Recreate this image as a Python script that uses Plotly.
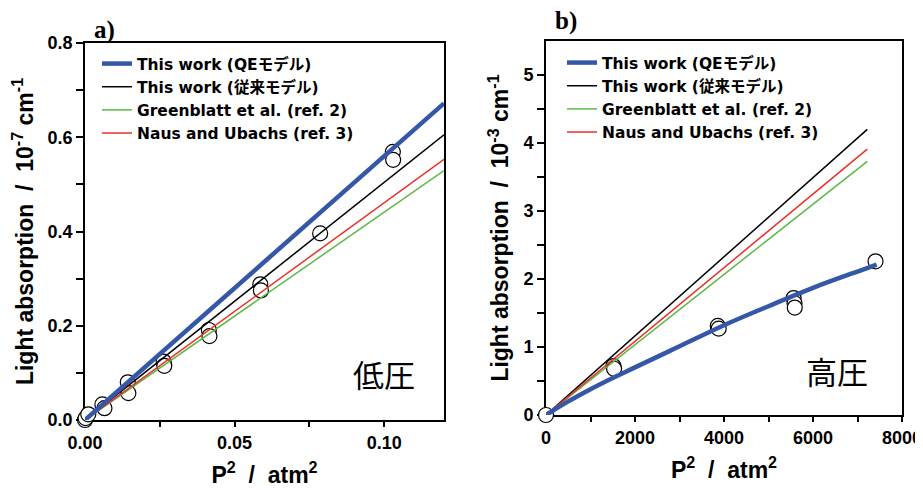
import plotly.graph_objects as go

W, H = 923, 490
OX, OY = 8, 8   # page offset of the figure inside the browser window

# ---------------- data ----------------
# panel a (low pressure)
a_pts_x = [0.0, 0.0002, 0.0011, 0.0058, 0.0065, 0.0143, 0.0145, 0.0263, 0.0265,
           0.0414, 0.0416, 0.0586, 0.0588, 0.0786, 0.1029, 0.1030]
a_pts_y = [0.0, 0.004, 0.012, 0.033, 0.025, 0.080, 0.057, 0.124, 0.115,
           0.191, 0.178, 0.288, 0.275, 0.396, 0.569, 0.552]
a_line_x = [0.0, 0.12]
a_qe = [0.0, 0.672]
a_conv = [0.0, 0.605]
a_green = [0.0, 0.529]
a_red = [0.0, 0.553]

# panel b (high pressure)
b_pts_x = [0, 1515, 1530, 3860, 3880, 5565, 5585, 5590, 7405]
b_pts_y = [0.0, 0.72, 0.68, 1.31, 1.27, 1.72, 1.645, 1.58, 2.26]
b_qe_x = [0, 500, 1000, 1500, 2000, 3000, 4000, 5000, 6000, 7000, 7430]
b_qe_y = [0.0, 0.20, 0.38, 0.545, 0.70, 1.01, 1.32, 1.60, 1.87, 2.11, 2.21]
b_line_x = [0, 7220]
b_conv = [0.0, 4.20]
b_green = [0.0, 3.73]
b_red = [0.0, 3.91]

names = ["This work (QEモデル)", "This work (従来モデル)",
         "Greenblatt et al. (ref. 2)", "Naus and Ubachs (ref. 3)"]

a_xtickvals = [0, 0.025, 0.05, 0.075, 0.10]
a_xticktext = ["0.00", "", "0.05", "", "0.10"]
a_ytickvals = [0, 0.1, 0.2, 0.3, 0.4, 0.5, 0.6, 0.7, 0.8]
a_yticktext = ["0.0", "", "0.2", "", "0.4", "", "0.6", "", "0.8"]
b_xtickvals = [0, 1000, 2000, 3000, 4000, 5000, 6000, 7000, 8000]
b_xticktext = ["0", "", "2000", "", "4000", "", "6000", "", "8000"]
b_ytickvals = [0, 0.5, 1, 1.5, 2, 2.5, 3, 3.5, 4, 4.5, 5]
b_yticktext = ["0", "", "1", "", "2", "", "3", "", "4", "", "5"]

BLUE = "#3557a8"
GREEN = "#5cb846"
RED = "#e8302a"
BLACK = "#000000"

FONT = "Liberation Sans, Arial, Noto Sans CJK JP, sans-serif"
LEGFONT = "DejaVu Sans, Noto Sans CJK JP, sans-serif"

def fx(px):
    return (px - OX) / W

def fy(py):
    return 1 - (py - OY) / H

fig = go.Figure()

def add_panel(xa, ya, legend, px, py, qx, qy, lx, conv, green, red):
    fig.add_trace(go.Scatter(x=px, y=py, mode="markers", xaxis=xa, yaxis=ya,
                             marker=dict(symbol="circle", size=15, color="white",
                                         line=dict(color="black", width=1.2)),
                             cliponaxis=False, showlegend=False, hoverinfo="skip"))
    fig.add_trace(go.Scatter(x=lx, y=conv, mode="lines", xaxis=xa, yaxis=ya,
                             line=dict(color=BLACK, width=1.5), name=names[1], legend=legend,
                             legendrank=2))
    fig.add_trace(go.Scatter(x=lx, y=green, mode="lines", xaxis=xa, yaxis=ya,
                             line=dict(color=GREEN, width=1.5), name=names[2], legend=legend,
                             legendrank=3))
    fig.add_trace(go.Scatter(x=lx, y=red, mode="lines", xaxis=xa, yaxis=ya,
                             line=dict(color=RED, width=1.5), name=names[3], legend=legend,
                             legendrank=4))
    fig.add_trace(go.Scatter(x=qx, y=qy, mode="lines", xaxis=xa, yaxis=ya,
                             line=dict(color=BLUE, width=4.5, shape="spline"),
                             name=names[0], legend=legend, legendrank=1))

add_panel("x", "y", "legend", a_pts_x, a_pts_y, a_line_x, a_qe, a_line_x,
          a_conv, a_green, a_red)
add_panel("x2", "y2", "legend2", b_pts_x, b_pts_y, b_qe_x, b_qe_y, b_line_x,
          b_conv, b_green, b_red)

tickfont = dict(family=FONT, size=18, color="black", weight="bold")
titlefont = dict(family=FONT, size=23, color="black", weight="bold")

def xax(domain, rng, tv, tt, anchor):
    return dict(domain=domain, range=rng, anchor=anchor, tickvals=tv, ticktext=tt,
                ticks="outside", ticklen=5, tickwidth=1.5, tickcolor="black",
                showline=True, linecolor="black", linewidth=1.8, mirror=True,
                showgrid=False, zeroline=False, tickfont=tickfont, layer="below traces",
                title=dict(text="P<sup>2</sup>  /  atm<sup>2</sup>", font=titlefont, standoff=15))

def yax(domain, rng, tv, tt, anchor, title):
    return dict(domain=domain, range=rng, anchor=anchor, tickvals=tv, ticktext=tt,
                ticks="outside", ticklen=7, tickwidth=1.5, tickcolor="black",
                showline=True, linecolor="black", linewidth=1.8, mirror=True,
                showgrid=False, zeroline=False, tickfont=tickfont, layer="below traces",
                title=dict(text=title, font=titlefont, standoff=8))

ax_dom = [fx(85), fx(444)]
ay_dom = [fy(420), fy(43)]
bx_dom = [fx(546), fx(902)]
by_dom = [fy(415), fy(41)]

def mirror_x(over, anchor, domain, rng, tv):
    return dict(overlaying=over, anchor=anchor, side="top", domain=domain, range=rng,
                tickvals=tv, ticks="inside", ticklen=5, tickwidth=1.5, tickcolor="black",
                showticklabels=False, showgrid=False, zeroline=False, showline=False)

def mirror_y(over, anchor, domain, rng, tv):
    return dict(overlaying=over, anchor=anchor, side="right", domain=domain, range=rng,
                tickvals=tv, ticks="inside", ticklen=5, tickwidth=1.5, tickcolor="black",
                showticklabels=False, showgrid=False, zeroline=False, showline=False)

legfont = dict(family=LEGFONT, size=15.5, color="black", weight="bold")

fig.update_layout(
    width=W, height=H,
    margin=dict(l=0, r=0, t=0, b=0, autoexpand=False),
    paper_bgcolor="white", plot_bgcolor="white",
    xaxis=xax(ax_dom, [0, 0.12], a_xtickvals, a_xticktext, "y"),
    yaxis=yax(ay_dom, [0, 0.8], a_ytickvals, a_yticktext, "x",
              "Light absorption  /  10<sup>-7</sup> cm<sup>-1</sup>"),
    xaxis2=xax(bx_dom, [0, 8000], b_xtickvals, b_xticktext, "y2"),
    yaxis2=yax(by_dom, [0, 5.5], b_ytickvals, b_yticktext, "x2",
               "Light absorption  /  10<sup>-3</sup> cm<sup>-1</sup>"),
    xaxis3=mirror_x("x", "y", ax_dom, [0, 0.12], a_xtickvals),
    yaxis3=mirror_y("y", "x", ay_dom, [0, 0.8], a_ytickvals),
    xaxis4=mirror_x("x2", "y2", bx_dom, [0, 8000], b_xtickvals),
    yaxis4=mirror_y("y2", "x2", by_dom, [0, 5.5], b_ytickvals),
    legend=dict(x=fx(97), y=fy(47), xanchor="left", yanchor="top",
                bgcolor="rgba(0,0,0,0)", borderwidth=0, font=legfont, tracegroupgap=0),
    legend2=dict(x=fx(562), y=fy(46), xanchor="left", yanchor="top",
                 bgcolor="rgba(0,0,0,0)", borderwidth=0, font=legfont, tracegroupgap=0),
    showlegend=True,
    annotations=[
        dict(text="a)", x=fx(104), y=fy(30), xref="paper", yref="paper",
             xanchor="center", yanchor="middle", showarrow=False,
             font=dict(family="Liberation Serif, serif", size=25, color="black", weight="bold")),
        dict(text="b)", x=fx(566), y=fy(21), xref="paper", yref="paper",
             xanchor="center", yanchor="middle", showarrow=False,
             font=dict(family="Liberation Serif, serif", size=25, color="black", weight="bold")),
        dict(text="低圧", x=fx(384), y=fy(373), xref="paper", yref="paper",
             xanchor="center", yanchor="middle", showarrow=False,
             font=dict(family="Noto Sans CJK JP", size=31, color="black")),
        dict(text="高圧", x=fx(837), y=fy(370), xref="paper", yref="paper",
             xanchor="center", yanchor="middle", showarrow=False,
             font=dict(family="Noto Sans CJK JP", size=31, color="black")),
    ],
)

fig.write_html("out.html")
